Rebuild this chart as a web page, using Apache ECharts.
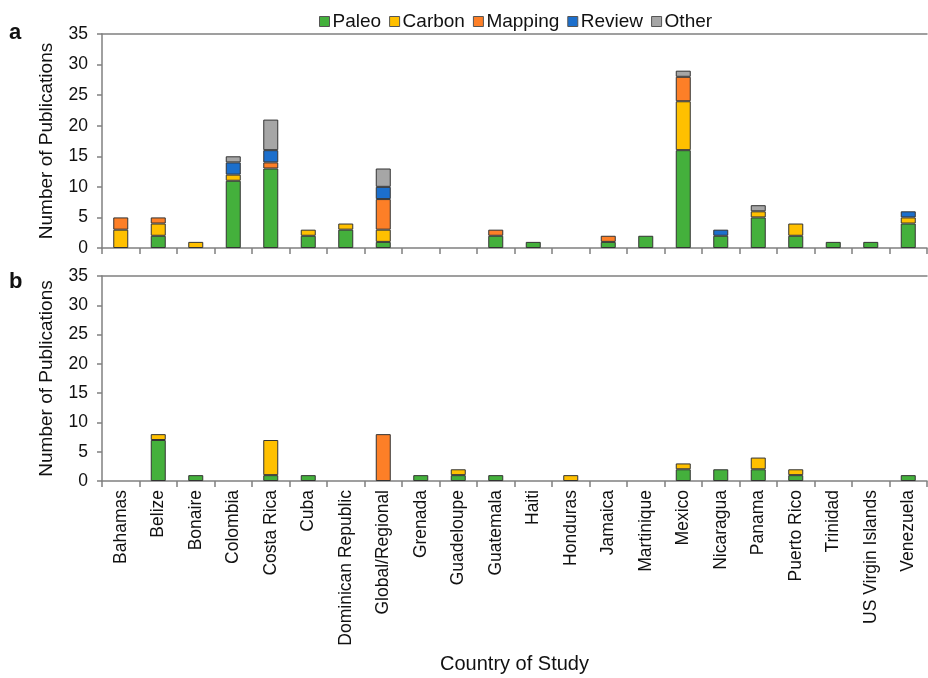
<!DOCTYPE html>
<html>
<head>
<meta charset="utf-8">
<script src="https://cdn.jsdelivr.net/npm/echarts@6/dist/echarts.min.js"></script>
<style>
  html, body { margin: 0; padding: 0; background: #fff; }
  #chart { width: 928px; height: 678px; }
</style>
</head>
<body>
<div id="chart"></div>
<script>
// categories (countries)
const countries = ['Bahamas', 'Belize', 'Bonaire', 'Colombia', 'Costa Rica', 'Cuba', 'Dominican Republic',
  'Global/Regional', 'Grenada', 'Guadeloupe', 'Guatemala', 'Haiti', 'Honduras', 'Jamaica', 'Martinique',
  'Mexico', 'Nicaragua', 'Panama', 'Puerto Rico', 'Trinidad', 'US Virgin Islands', 'Venezuela']

// panel a
const paleoA   = [0, 2, 0, 11, 13, 2, 3, 1, 0, 0, 2, 1, 0, 1, 2, 16, 2, 5, 2, 1, 1, 4]
const carbonA  = [3, 2, 1, 1, 0, 1, 1, 2, 0, 0, 0, 0, 0, 0, 0, 8, 0, 1, 2, 0, 0, 1]
const mappingA = [2, 1, 0, 0, 1, 0, 0, 5, 0, 0, 1, 0, 0, 1, 0, 4, 0, 0, 0, 0, 0, 0]
const reviewA  = [0, 0, 0, 2, 2, 0, 0, 2, 0, 0, 0, 0, 0, 0, 0, 0, 1, 0, 0, 0, 0, 1]
const otherA   = [0, 0, 0, 1, 5, 0, 0, 3, 0, 0, 0, 0, 0, 0, 0, 1, 0, 1, 0, 0, 0, 0]

// panel b
const paleoB   = [0, 7, 1, 0, 1, 1, 0, 0, 1, 1, 1, 0, 0, 0, 0, 2, 2, 2, 1, 0, 0, 1]
const carbonB  = [0, 1, 0, 0, 6, 0, 0, 0, 0, 1, 0, 0, 1, 0, 0, 1, 0, 2, 1, 0, 0, 0]
const mappingB = [0, 0, 0, 0, 0, 0, 0, 8, 0, 0, 0, 0, 0, 0, 0, 0, 0, 0, 0, 0, 0, 0]
const reviewB  = [0, 0, 0, 0, 0, 0, 0, 0, 0, 0, 0, 0, 0, 0, 0, 0, 0, 0, 0, 0, 0, 0]
const otherB   = [0, 0, 0, 0, 0, 0, 0, 0, 0, 0, 0, 0, 0, 0, 0, 0, 0, 0, 0, 0, 0, 0]

const typeNames = ['Paleo', 'Carbon', 'Mapping', 'Review', 'Other']
const typeColors = ['#44b03c', '#ffc000', '#fd7f27', '#1c6fcc', '#a6a6a6']

const font = 'Liberation Sans, Arial, sans-serif'
const textColor = '#111'
const axisColor = '#808080'

const makeY = (gridIndex) => ({
  type: 'value',
  gridIndex,
  min: 0,
  max: 35,
  interval: 5,
  name: 'Number of Publications',
  nameLocation: 'middle',
  nameGap: 46,
  nameTextStyle: { fontFamily: font, fontSize: 19, color: textColor },
  axisLine: { show: true, lineStyle: { color: axisColor, width: 1.5 } },
  axisTick: { show: true, length: 5, lineStyle: { color: axisColor, width: 1.5 } },
  axisLabel: { fontFamily: font, fontSize: 17.5, color: textColor, margin: 14 },
  splitLine: { show: false }
})

const makeX = (gridIndex, showLabels) => ({
  type: 'category',
  gridIndex,
  data: countries,
  axisLine: { show: true, lineStyle: { color: axisColor, width: 1.5 } },
  axisTick: { show: true, interval: 0, length: 6, alignWithLabel: false, lineStyle: { color: axisColor, width: 1.5 } },
  axisLabel: showLabels
    ? { rotate: 90, interval: 0, fontFamily: font, fontSize: 17.5, color: textColor, margin: 9 }
    : { show: false, interval: 0 },
  name: showLabels ? 'Country of Study' : '',
  nameLocation: 'middle',
  nameGap: 173,
  nameTextStyle: { fontFamily: font, fontSize: 20, color: textColor }
})

// top border lines of each panel
const makeTop = (gridIndex) => ({
  type: 'category',
  gridIndex,
  position: 'top',
  data: countries,
  axisLine: { show: true, lineStyle: { color: axisColor, width: 1.5 } },
  axisTick: { show: false },
  axisLabel: { show: false }
})

const dataA = [paleoA, carbonA, mappingA, reviewA, otherA]
const dataB = [paleoB, carbonB, mappingB, reviewB, otherB]

const series = []
const addPanel = (data, idx) => {
  data.forEach((vals, i) => {
    series.push({
      name: typeNames[i],
      type: 'bar',
      stack: 'panel' + idx,
      xAxisIndex: idx,
      yAxisIndex: idx,
      barWidth: '40%',
      data: vals.map(v => (v === 0 ? '-' : v)),
      itemStyle: { color: typeColors[i], borderColor: '#333', borderWidth: 1 }
    })
  })
}
addPanel(dataA, 0)
addPanel(dataB, 1)

const chart = echarts.init(document.getElementById('chart'))
chart.setOption({
  backgroundColor: '#fff',
  animation: false,
  legend: {
    data: typeNames,
    icon: 'rect',
    top: 7,
    left: 314,
    itemWidth: 10,
    itemHeight: 10,
    itemGap: 8,
    textStyle: { fontFamily: font, fontSize: 19, color: textColor, padding: [0, 0, 0, -2] },
    itemStyle: { borderColor: '#555', borderWidth: 1 }
  },
  grid: [
    { left: 102, right: 1, top: 34, height: 214 },
    { left: 102, right: 1, top: 276, height: 205 }
  ],
  xAxis: [makeX(0, false), makeX(1, true), makeTop(0), makeTop(1)],
  yAxis: [makeY(0), makeY(1)],
  series,
  graphic: [
    { type: 'text', left: 9, top: 22, style: { text: 'a', font: 'bold 22px ' + font, fill: textColor } },
    { type: 'text', left: 9, top: 271, style: { text: 'b', font: 'bold 22px ' + font, fill: textColor } }
  ]
})

window.addEventListener('resize', () => chart.resize())
</script>
</body>
</html>
